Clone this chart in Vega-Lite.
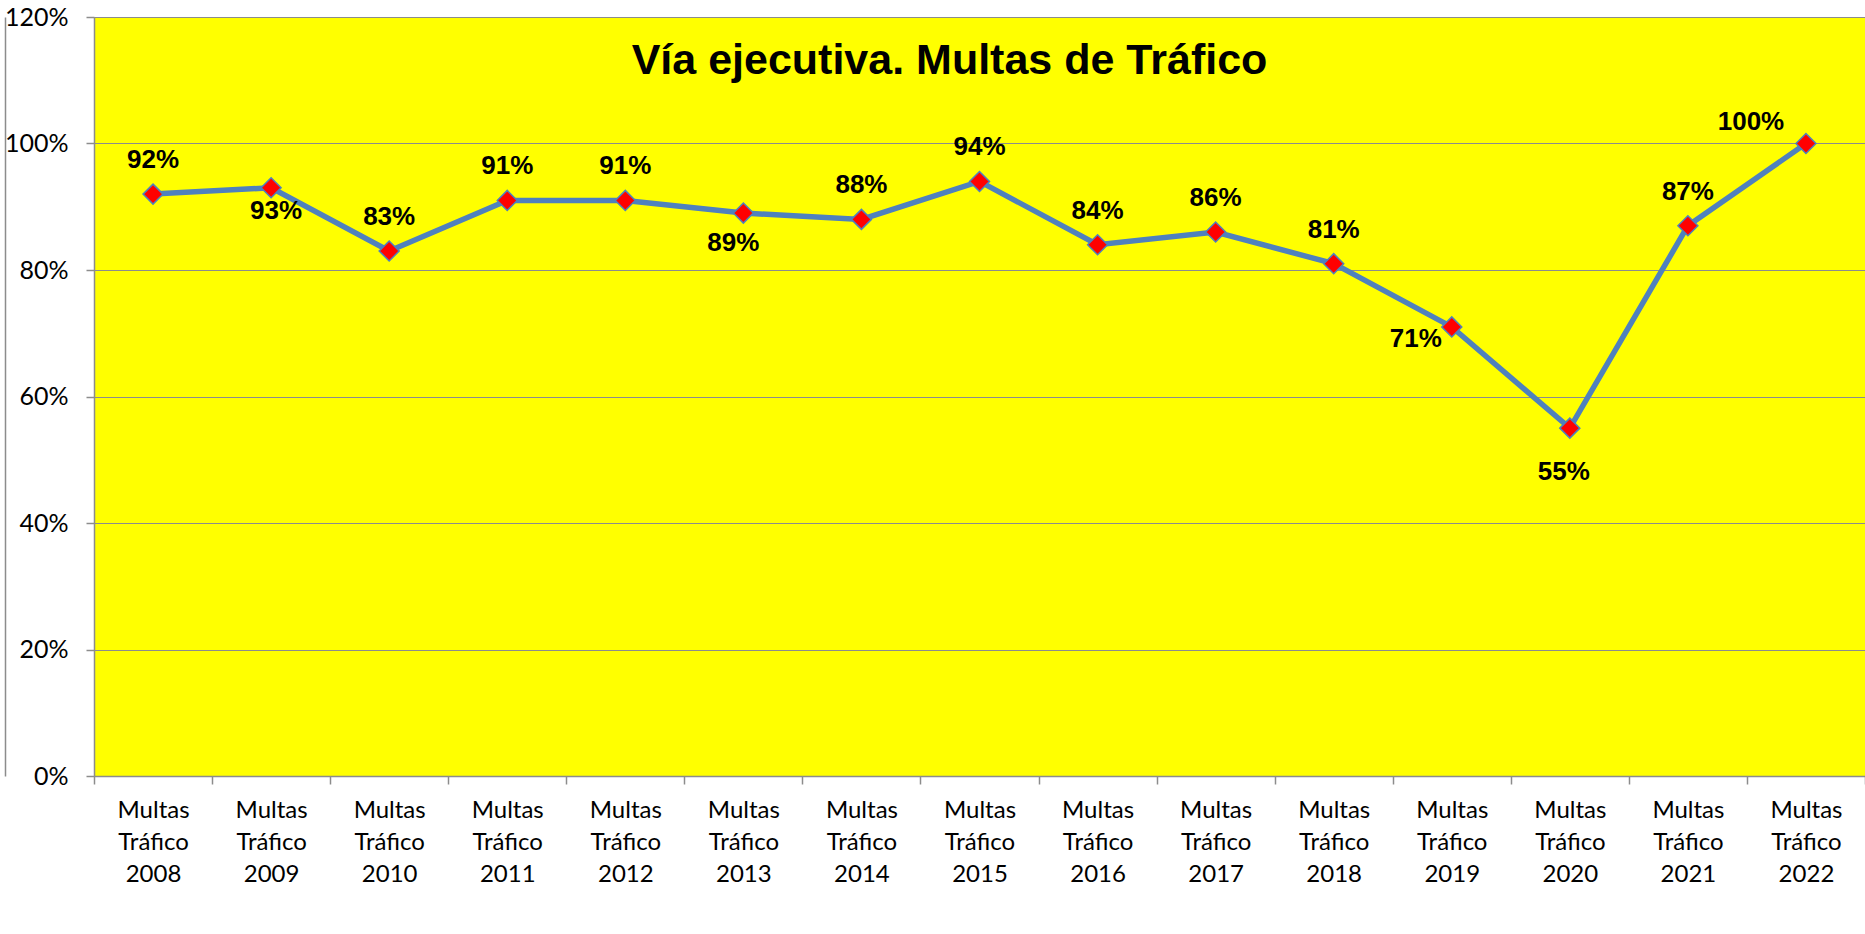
{
  "$schema": "https://vega.github.io/schema/vega-lite/v6.json",
  "width": 1771,
  "height": 759,
  "autosize": {"type": "none"},
  "padding": {"left": 94, "top": 17, "right": 0, "bottom": 158},
  "background": "#FFFFFF",
  "title": {
    "text": "Vía ejecutiva. Multas de Tráfico",
    "font": "Liberation Sans",
    "fontSize": 43,
    "fontWeight": "bold",
    "color": "#000000",
    "anchor": "middle",
    "frame": "group",
    "baseline": "alphabetic",
    "offset": -58,
    "dx": -30,
    "dy": 54
  },
  "config": {
    "view": {"fill": "#FFFF00", "stroke": null},
    "axis": {
      "labelFont": "Lato",
      "labelColor": "#000000",
      "domainColor": "#8C8C8C",
      "tickColor": "#8C8C8C",
      "gridColor": "#8C8C8C",
      "gridWidth": 1.2,
      "domainWidth": 1.5,
      "tickWidth": 1.5,
      "tickSize": 8,
      "title": null
    }
  },
  "data": {
    "values": [
      {"cat": "Multas Tráfico 2008", "year": "2008", "value": 0.92},
      {"cat": "Multas Tráfico 2009", "year": "2009", "value": 0.93},
      {"cat": "Multas Tráfico 2010", "year": "2010", "value": 0.83},
      {"cat": "Multas Tráfico 2011", "year": "2011", "value": 0.91},
      {"cat": "Multas Tráfico 2012", "year": "2012", "value": 0.91},
      {"cat": "Multas Tráfico 2013", "year": "2013", "value": 0.89},
      {"cat": "Multas Tráfico 2014", "year": "2014", "value": 0.88},
      {"cat": "Multas Tráfico 2015", "year": "2015", "value": 0.94},
      {"cat": "Multas Tráfico 2016", "year": "2016", "value": 0.84},
      {"cat": "Multas Tráfico 2017", "year": "2017", "value": 0.86},
      {"cat": "Multas Tráfico 2018", "year": "2018", "value": 0.81},
      {"cat": "Multas Tráfico 2019", "year": "2019", "value": 0.71},
      {"cat": "Multas Tráfico 2020", "year": "2020", "value": 0.55},
      {"cat": "Multas Tráfico 2021", "year": "2021", "value": 0.87},
      {"cat": "Multas Tráfico 2022", "year": "2022", "value": 1.00}
    ]
  },
  "encoding": {
    "x": {
      "field": "cat",
      "type": "nominal",
      "sort": null,
      "scale": {"paddingInner": 0, "paddingOuter": 0},
      "axis": {
        "labelAngle": 0,
        "labelFontSize": 24,
        "labelLineHeight": 32,
        "labelBaseline": "top",
        "labelPadding": 14,
        "tickBand": "extent",
        "labelExpr": "split(datum.label, ' ')",
        "grid": false
      }
    }
  },
  "resolve": {"axis": {"y": "independent"}},
  "layer": [
    {
      "mark": {"type": "line", "color": "#4F81BD", "strokeWidth": 5.5},
      "encoding": {
        "y": {
          "field": "value",
          "type": "quantitative",
          "scale": {"domain": [0, 1.2], "nice": false},
          "axis": {
            "orient": "left",
            "values": [0, 0.2, 0.4, 0.6, 0.8, 1.0, 1.2],
            "format": ".0%",
            "labelFontSize": 25,
            "labelPadding": 18,
            "grid": true
          }
        }
      }
    },
    {
      "mark": {"type": "point", "shape": "diamond", "filled": true, "fill": "#FF0000", "stroke": "#4F81BD", "strokeWidth": 1.5, "size": 400, "opacity": 1},
      "encoding": {
        "y": {
          "field": "value",
          "type": "quantitative",
          "axis": {
            "orient": "left",
            "offset": 89,
            "labels": false,
            "ticks": false,
            "grid": false,
            "domain": true,
            "domainWidth": 1.5
          }
        }
      }
    },
    {
      "transform": [{"filter": "indexof(['2009','2013','2019','2020','2022'], datum.year) < 0"}],
      "mark": {"type": "text", "font": "Liberation Sans", "fontWeight": "bold", "fontSize": 26, "color": "#000000", "baseline": "middle", "dy": -34},
      "encoding": {"y": {"field": "value", "type": "quantitative", "axis": null}, "text": {"field": "value", "type": "quantitative", "format": ".0%"}}
    },
    {
      "transform": [{"filter": "datum.year == '2009'"}],
      "mark": {"type": "text", "font": "Liberation Sans", "fontWeight": "bold", "fontSize": 26, "color": "#000000", "baseline": "middle", "dx": 5, "dy": 23},
      "encoding": {"y": {"field": "value", "type": "quantitative", "axis": null}, "text": {"field": "value", "type": "quantitative", "format": ".0%"}}
    },
    {
      "transform": [{"filter": "datum.year == '2013'"}],
      "mark": {"type": "text", "font": "Liberation Sans", "fontWeight": "bold", "fontSize": 26, "color": "#000000", "baseline": "middle", "dx": -10, "dy": 30},
      "encoding": {"y": {"field": "value", "type": "quantitative", "axis": null}, "text": {"field": "value", "type": "quantitative", "format": ".0%"}}
    },
    {
      "transform": [{"filter": "datum.year == '2019'"}],
      "mark": {"type": "text", "font": "Liberation Sans", "fontWeight": "bold", "fontSize": 26, "color": "#000000", "baseline": "middle", "dx": -36, "dy": 12},
      "encoding": {"y": {"field": "value", "type": "quantitative", "axis": null}, "text": {"field": "value", "type": "quantitative", "format": ".0%"}}
    },
    {
      "transform": [{"filter": "datum.year == '2020'"}],
      "mark": {"type": "text", "font": "Liberation Sans", "fontWeight": "bold", "fontSize": 26, "color": "#000000", "baseline": "middle", "dx": -6, "dy": 44},
      "encoding": {"y": {"field": "value", "type": "quantitative", "axis": null}, "text": {"field": "value", "type": "quantitative", "format": ".0%"}}
    },
    {
      "transform": [{"filter": "datum.year == '2022'"}],
      "mark": {"type": "text", "font": "Liberation Sans", "fontWeight": "bold", "fontSize": 26, "color": "#000000", "baseline": "middle", "dx": -55, "dy": -22},
      "encoding": {"y": {"field": "value", "type": "quantitative", "axis": null}, "text": {"field": "value", "type": "quantitative", "format": ".0%"}}
    }
  ]
}
